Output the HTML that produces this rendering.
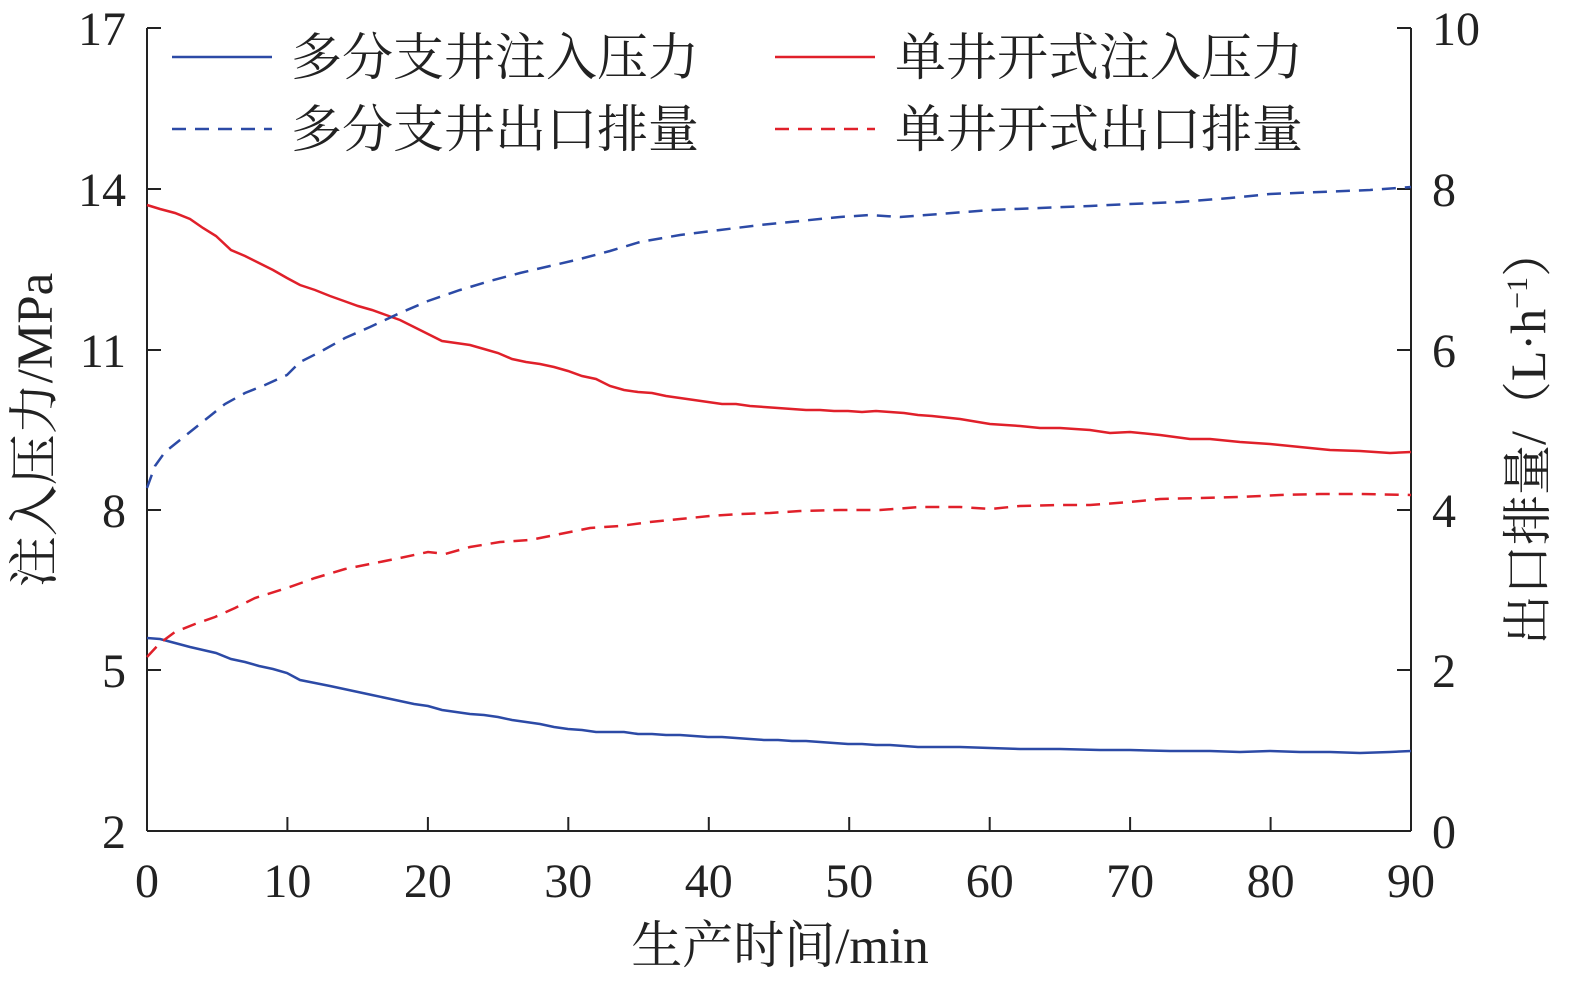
<!DOCTYPE html>
<html><head><meta charset="utf-8"><style>
html,body{margin:0;padding:0;background:#fff;}
svg{display:block;}
text{font-family:"Liberation Serif","Noto Serif CJK SC",serif;fill:#222;}
</style></head><body>
<svg width="1575" height="982" viewBox="0 0 1575 982" xmlns="http://www.w3.org/2000/svg">
<g stroke="#222" stroke-width="2" fill="none">
<line x1="147" y1="28" x2="147" y2="831"/>
<line x1="1411" y1="28" x2="1411" y2="831"/>
<line x1="147" y1="831" x2="1411" y2="831"/>
<path d="M147 28h14M147 189h14M147 350h14M147 510h14M147 670h14"/>
<path d="M1411 28h-14M1411 189h-14M1411 350h-14M1411 510h-14M1411 670h-14"/>
<path d="M287.4 831v-14M427.9 831v-14M568.3 831v-14M708.8 831v-14M849.2 831v-14M989.7 831v-14M1130.1 831v-14M1270.6 831v-14"/>
</g>
<g font-size="48" text-anchor="end">
<text x="126" y="45">17</text><text x="126" y="206">14</text><text x="126" y="367">11</text>
<text x="126" y="527">8</text><text x="126" y="687">5</text><text x="126" y="848">2</text>
</g>
<g font-size="48" text-anchor="start">
<text x="1432" y="45">10</text><text x="1432" y="206">8</text><text x="1432" y="367">6</text>
<text x="1432" y="527">4</text><text x="1432" y="687">2</text><text x="1432" y="848">0</text>
</g>
<g font-size="48" text-anchor="middle">
<text x="147" y="897">0</text><text x="287.4" y="897">10</text><text x="427.9" y="897">20</text>
<text x="568.3" y="897">30</text><text x="708.8" y="897">40</text><text x="849.2" y="897">50</text>
<text x="989.7" y="897">60</text><text x="1130.1" y="897">70</text><text x="1270.6" y="897">80</text>
<text x="1411" y="897">90</text>
</g>
<text x="780" y="963" font-size="51" text-anchor="middle">生产时间/min</text>
<text transform="translate(52,430) rotate(-90)" font-size="51" text-anchor="middle">注入压力/MPa</text>
<text transform="translate(1545,436) rotate(-90)" font-size="50" text-anchor="middle">出口排量/（L·h<tspan font-size="30" dy="-18">−1</tspan><tspan dy="18">）</tspan></text>

<g fill="none" stroke-width="2.5">
<polyline stroke="#2c4aa6" points="147,638 160,639 175,643 190,647 203,650 216,653 231,659 245,662 259,666 273,669 287,673 300,680 315,683 330,686 344,689 358,692 372,695 386,698 400,701 414,704 428,706 442,710 456,712 470,714 484,715 498,717 512,720 526,722 540,724 554,727 568,729 582,730 596,732 610,732 624,732 638,734 652,734 666,735 680,735 694,736 708,737 722,737 736,738 750,739 764,740 778,740 792,741 806,741 820,742 834,743 848,744 862,744 876,745 890,745 904,746 918,747 932,747 960,747 990,748 1020,749 1060,749 1100,750 1130,750 1170,751 1210,751 1240,752 1270,751 1300,752 1330,752 1360,753 1390,752 1411,751"/>
<polyline stroke="#e0202a" points="147,205 160,209 175,213 190,219 203,228 216,236 231,250 245,256 259,263 273,270 287,278 300,285 315,290 330,296 344,301 358,306 372,310 386,315 400,320 414,327 428,334 442,341 456,343 470,345 484,349 498,353 512,359 526,362 540,364 554,367 568,371 582,376 596,379 610,386 624,390 638,392 652,393 666,396 680,398 694,400 708,402 722,404 736,404 750,406 764,407 778,408 792,409 806,410 820,410 834,411 848,411 862,412 876,411 890,412 904,413 918,415 932,416 960,419 990,424 1020,426 1040,428 1060,428 1090,430 1110,433 1130,432 1160,435 1190,439 1210,439 1240,442 1270,444 1300,447 1330,450 1360,451 1390,453 1411,452"/>
<polyline stroke="#2c4aa6" stroke-dasharray="14,9" points="147,488 155,466 165,452 180,440 195,428 210,416 225,404 245,393 265,385 287,375 300,362 320,352 345,338 370,327 400,313 428,301 460,290 490,281 520,273 550,266 580,259 610,251 640,242 680,235 720,230 760,225 800,221 840,217 870,215 900,217 940,214 990,210 1040,208 1090,206 1130,204 1180,202 1230,198 1270,194 1320,192 1370,190 1411,187"/>
<polyline stroke="#e0202a" stroke-dasharray="14,9" points="147,657 160,643 175,632 195,624 215,617 235,608 255,598 287,588 315,578 345,569 375,563 400,558 428,552 445,554 470,547 500,542 530,540 560,534 590,528 620,526 650,522 680,519 710,516 740,514 770,513 800,511 840,510 880,510 920,507 960,507 990,509 1020,506 1060,505 1090,505 1130,502 1160,499 1200,498 1240,497 1280,495 1320,494 1360,494 1411,495"/>
<line x1="172" y1="57" x2="272" y2="57" stroke="#2c4aa6"/>
<line x1="775" y1="57" x2="875" y2="57" stroke="#e0202a"/>
<line x1="172" y1="129" x2="272" y2="129" stroke="#2c4aa6" stroke-dasharray="14,9"/>
<line x1="775" y1="129" x2="875" y2="129" stroke="#e0202a" stroke-dasharray="14,9"/>
</g>
<g font-size="51">
<text x="291" y="75">多分支井注入压力</text>
<text x="895" y="75">单井开式注入压力</text>
<text x="291" y="147">多分支井出口排量</text>
<text x="895" y="147">单井开式出口排量</text>
</g>
</svg>
</body></html>
